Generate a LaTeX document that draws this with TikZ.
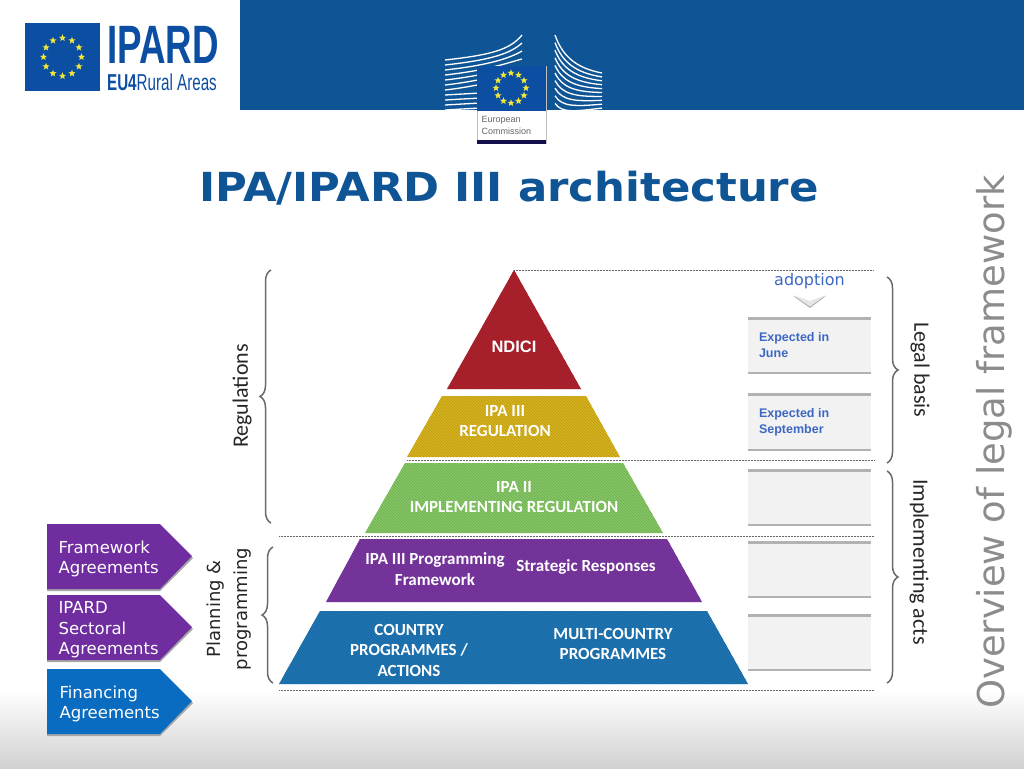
\documentclass[tikz,border=0pt]{standalone}
\usepackage{fontspec}
\setmainfont{Carlito}
\newfontfamily\verdanafont{DejaVu Sans}
\newfontfamily\arialfont{Liberation Sans}
\usetikzlibrary{shapes.geometric,decorations.pathreplacing,patterns}
\definecolor{headblue}{HTML}{0F5596}
\definecolor{flagblue}{HTML}{0B4EA2}
\definecolor{starcol}{HTML}{F2E63A}
\definecolor{bracecol}{HTML}{6A6A6A}
\definecolor{layerred}{HTML}{B0222E}
\definecolor{layeryellow}{HTML}{D8B41C}
\definecolor{layergreen}{HTML}{84C864}
\definecolor{layerpurple}{HTML}{7A36A2}
\definecolor{layerblue}{HTML}{1F76B6}
\definecolor{arrowpurple}{HTML}{6F2DA0}
\definecolor{arrowblue}{HTML}{0A6CC0}
\definecolor{labelblue}{HTML}{3C68C4}
\definecolor{ecnavy}{HTML}{14104F}
\tikzset{
  eustar/.style={star,star points=5,star point ratio=2.4,fill=starcol,inner sep=0pt,minimum size=#1},
  layerfill/.style={fill=#1,postaction={pattern=north west lines,pattern color=#1!85!black}},
  layertext/.style={text=white,align=center,font=\bfseries\fontsize{17}{20.5}\selectfont},
  agreetext/.style={text=white,align=left,anchor=west,font=\verdanafont\fontsize{16.5}{20.5}\selectfont},
  sidetext/.style={text=black!85,align=center,font=\fontsize{22}{27}\selectfont},
  expecttext/.style={text=labelblue,align=left,anchor=west,font=\arialfont\bfseries\fontsize{12.5}{16}\selectfont},
  dotline/.style={densely dotted,line width=0.5pt,black!60},
  sidebrace/.style={bracecol,line width=1.5pt,decorate,decoration={brace,amplitude=11pt}},
  datebox/.style={fill=black!5,draw=none},
  agreearrow/.style={fill=#1}
}
\begin{document}
\begin{tikzpicture}[x=1pt,y=-1pt]
\useasboundingbox (0,0) rectangle (1024,768);
\shade[top color=white,bottom color=black!18] (0,690) rectangle (1024,768);
\fill[headblue] (240,0) rectangle (1024,110);
% commission building
\begin{scope}
\clip (440,30) rectangle (602,110);
\foreach \i in {0,...,6}
\draw[white,line width=1.3pt] (445,{60+5*\i}) .. controls (490,{55+5*\i}) and (510,{50+4*\i}) .. (522,{35+8*\i});
\foreach \i in {7,...,10}
\draw[white,line width=1.3pt] (445,{60+5*\i}) -- (480,{58+5*\i});
\foreach \i in {0,...,9}
\draw[white,line width=1.3pt] (555,{35+7.6*\i}) .. controls (562,{55+6.5*\i}) and (575,{68+4.8*\i}) .. (602,{73+3.9*\i});
\end{scope}
\fill[white] (477,66) rectangle (546,143);
\draw[black!25,line width=0.4pt] (477,66) rectangle (546,143);
\fill[flagblue] (477,66) rectangle (546,111);
\fill[ecnavy] (477,140) rectangle (546,143.5);
\begin{scope}[shift={(511,88)}]
\foreach \a in {0,30,...,330}
\node[eustar=7.5pt] (ecstar\a) at (\a:15) {};
\end{scope}
\node[anchor=west,text=black!60,align=left,font=\arialfont\fontsize{9}{11.5}\selectfont] (ecname) at (478,125.5) {European\\Commission};
% ipard logo
\fill[flagblue] (25,23) rectangle (100,91);
\begin{scope}[shift={(62.5,57)}]
\foreach \a in {0,30,...,330}
\node[eustar=7.5pt] (logostar\a) at (\a:19) {};
\end{scope}
\node[anchor=west,inner sep=0pt,text=flagblue,xscale=0.68,font=\arialfont\bfseries\fontsize{54}{54}\selectfont] (logomain) at (107,45) {IPARD};
\node[anchor=west,inner sep=0pt,text=flagblue,xscale=0.66,font=\arialfont\fontsize{23}{23}\selectfont] (logosub) at (107,82) {\textbf{EU4}Rural Areas};
% title
\node[text=headblue,xscale=1.085,font=\verdanafont\bfseries\fontsize{40}{40}\selectfont] (title) at (509,188) {IPA/IPARD III architecture};
\node[rotate=90,text=black!45,font=\verdanafont\fontsize{37}{37}\selectfont] (overview) at (994,442) {Overview of legal framework};
% dotted rules
\coordinate (r1a) at (514,270); \coordinate (r1b) at (874,270);
\coordinate (r2a) at (407,460); \coordinate (r2b) at (874,460);
\coordinate (r3a) at (279,536.5); \coordinate (r3b) at (874,536.5);
\coordinate (r4a) at (279,690); \coordinate (r4b) at (874,690);
\foreach \n in {1,2,3,4}
\draw[dotline] (r\n a) -- (r\n b);
% pyramid
\path[layerfill=layerred] (514,270) -- (581,389) -- (447,389) -- cycle;
\path[layerfill=layeryellow] (442,396) -- (586,396) -- (620,457) -- (407,457) -- cycle;
\path[layerfill=layergreen] (405,463) -- (623,463) -- (663,533) -- (365,533) -- cycle;
\path[layerfill=layerpurple] (360,539) -- (667,539) -- (702,602) -- (326,602) -- cycle;
\path[layerfill=layerblue] (320,611) -- (707,611) -- (748,684) -- (279,684) -- cycle;
\node[layertext,font=\arialfont\bfseries\fontsize{16.5}{18}\selectfont] (ndici) at (514,347) {NDICI};
\node[layertext] (ipa3) at (505,421) {IPA III\\REGULATION};
\node[layertext] (ipa2) at (514,497) {IPA II\\IMPLEMENTING REGULATION};
\node[layertext] (progfw) at (435,569) {IPA III Programming\\Framework};
\node[layertext] (strategic) at (586,567) {Strategic Responses};
\node[layertext] (country) at (409,650) {COUNTRY\\PROGRAMMES /\\ACTIONS};
\node[layertext] (multi) at (613,644) {MULTI-COUNTRY\\PROGRAMMES};
% date boxes
\foreach \t/\b in {317/372,393/449,469/524,541/596,614/669} {
\fill[black!30] (748,\t) rectangle (871,\b+2);
\fill[datebox] (748,\t+3) rectangle (871,\b);
}
\node[expecttext] (june) at (755.5,345) {Expected in\\June};
\node[expecttext] (sept) at (755.5,422) {Expected in\\September};
\node[text=labelblue,font=\verdanafont\fontsize{16}{16}\selectfont] (adoption) at (809.5,281) {adoption};
\fill[black!30] (793,296) -- (810,302.5) -- (826,296) -- (810,308) -- cycle;
\fill[black!10] (793,295) -- (810,301) -- (826,295) -- (810,306.5) -- cycle;
% braces
\coordinate (b1a) at (271,523); \coordinate (b1b) at (271,270);
\coordinate (b2a) at (273,683); \coordinate (b2b) at (273,547);
\coordinate (b3a) at (887,277); \coordinate (b3b) at (887,463);
\coordinate (b4a) at (887,471); \coordinate (b4b) at (887,683);
\foreach \n in {1,2,3,4}
\draw[sidebrace] (b\n a) -- (b\n b);
\node[sidetext,rotate=90] (regs) at (242,396) {Regulations};
\node[sidetext,rotate=90,font=\verdanafont\fontsize{18}{27}\selectfont] (planning) at (229,609) {Planning \&\\programming};
\node[sidetext,rotate=-90] (legal) at (920,370) {Legal basis};
\node[sidetext,rotate=-90] (impl) at (919,562) {Implementing acts};
% agreements
\foreach \t/\col in {524/arrowpurple,595/arrowpurple,669/arrowblue} {
\fill[black!35] (47,\t+2) -- (160,\t+2) -- (193,\t+34) -- (160,\t+67) -- (47,\t+67) -- cycle;
\fill[agreearrow=\col] (47,\t) -- (160,\t) -- (192,\t+32) -- (160,\t+65) -- (47,\t+65) -- cycle;
}
\node[agreetext] (fwagree) at (55,559) {Framework\\Agreements};
\node[agreetext] (sectoral) at (55,630) {IPARD\\Sectoral\\Agreements};
\node[agreetext] (financing) at (56,704) {Financing\\Agreements};
\end{tikzpicture}
\end{document}
